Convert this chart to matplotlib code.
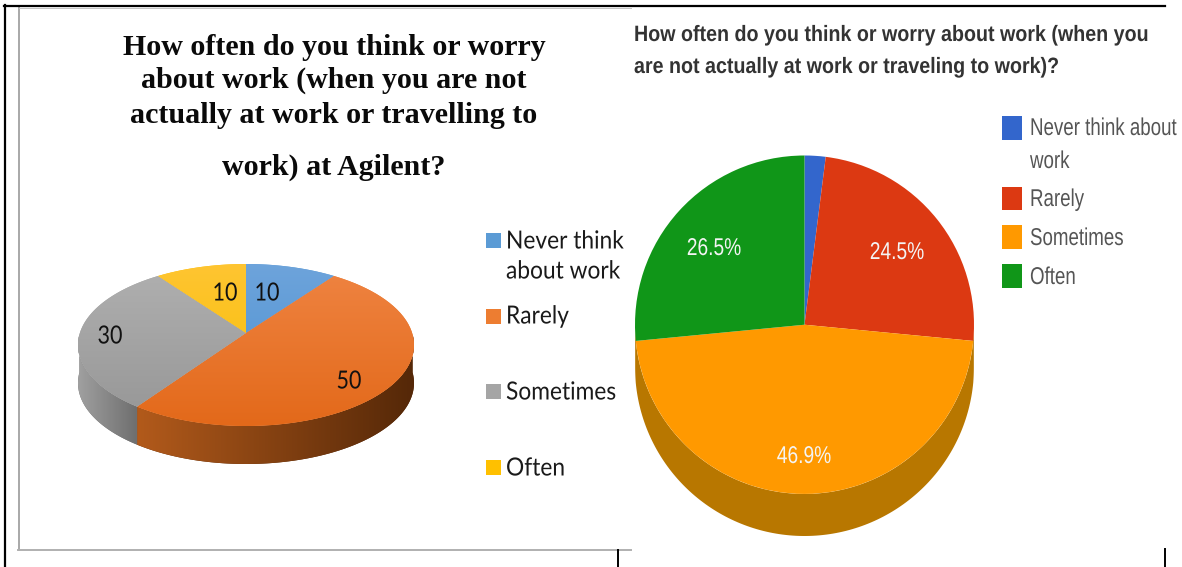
import numpy as np
import matplotlib
matplotlib.use('Agg')
import matplotlib.pyplot as plt
from matplotlib.colors import to_rgb
from matplotlib.patches import Polygon
from matplotlib.patheffects import AbstractPathEffect
from matplotlib.path import Path
from matplotlib.transforms import Affine2D, Transform

W, H = 1182, 567

categories = ['Never think\nabout work', 'Rarely', 'Sometimes', 'Often']
left_values = [10, 50, 30, 10]
left_labels = ['10', '50', '30', '10']
left_title = ['How often do you think or worry', 'about work (when you are not',
              'actually at work or travelling to', 'work) at Agilent?']

right_categories = ['Never think about\nwork', 'Rarely', 'Sometimes', 'Often']
right_values = [2.0, 24.5, 46.9, 26.5]
right_title = ['How often do you think or worry about work (when you',
               'are not actually at work or traveling to work)?']


class DiskWarp(Transform):
    # keeps the rim on the ellipse, squeezes the far slices and slides the apex up
    input_dims = 2
    output_dims = 2

    def __init__(self, lift, squeeze):
        super().__init__()
        self.lift = lift
        self.squeeze = squeeze

    def transform_non_affine(self, values):
        xy = np.asarray(values, dtype=float)
        r = np.hypot(xy[:, 0], xy[:, 1])
        phi = np.arctan2(xy[:, 0], xy[:, 1])
        phi = phi - self.squeeze * np.sin(phi)
        return np.column_stack([r * np.sin(phi),
                                r * np.cos(phi) + self.lift * (1 - np.minimum(r, 1))])

    def transform_path_non_affine(self, path):
        poly = path.to_polygons(Affine2D().scale(500), closed_only=False)[0] / 500
        return Path(self.transform_non_affine(poly), closed=True)


class Narrow(AbstractPathEffect):
    # squeezes drawn glyphs sideways around a fixed pixel column
    def __init__(self, x0, sx):
        super().__init__()
        self.squash = Affine2D().translate(-x0, 0).scale(sx, 1).translate(x0, 0)

    def draw_path(self, renderer, gc, tpath, affine, rgbFace=None):
        renderer.draw_path(gc, tpath, affine + self.squash, rgbFace)


def px_axes(x0, x1, y0, y1):
    return fig.add_axes([x0 / W, 1 - y1 / H, (x1 - x0) / W, (y1 - y0) / H])


def gradient(ax, c0, c1, extent, clip, vertical=True, zorder=3):
    t = np.linspace(0, 1, 128)[:, None]
    img = (1 - t) * np.array(to_rgb(c0)) + t * np.array(to_rgb(c1))
    img = img[:, None, :] if vertical else img[None, :, :]
    im = ax.imshow(img, extent=extent, aspect='auto', origin='upper',
                   interpolation='bilinear', zorder=zorder)
    im.set_clip_path(clip)


def side_wall(wedge, depth, warp=None):
    # only the front half of the rim shows a wall
    lo, hi = max(wedge.theta1, -180), min(wedge.theta2, 0)
    if lo >= hi:
        return None
    t = np.radians(np.linspace(lo, hi, 150))
    rim = np.c_[np.cos(t), np.sin(t)]
    if warp is not None:
        rim = warp.transform_non_affine(rim)
    low = rim - [0, depth]
    return np.r_[rim, low[::-1]]


def squeezed(x, y, s, sx, step=0, ha='left', **kw):
    # one Text per line so the line pitch stays fixed
    for i, part in enumerate(s.split('\n')):
        t = bg.text(x, y + i * step, part, ha=ha, va='center', **kw)
        x0 = x
        width = t.get_window_extent(fig.canvas.get_renderer()).width
        if ha == 'left':
            # pin the right end so the unsqueezed box stays on the page
            x0 = x + width * sx
            t.set_ha('right')
            t.set_x(x0)
        t.set_path_effects([Narrow(x0, sx)])


fig = plt.figure(figsize=(W / 100, H / 100), dpi=100, facecolor='white')

# page furniture and all text live on one pixel-sized layer
bg = fig.add_axes([0, 0, 1, 1], zorder=5)
bg.set_xlim(0, W)
bg.set_ylim(H, 0)
bg.axis('off')
bg.patch.set_alpha(0)

bg.plot([19, 19], [7, 550], color='#a8a8a8', lw=1.4)
bg.plot([18, 631], [549.7, 549.7], color='#b0b0b0', lw=1.4)
bg.plot([19, 631], [7.6, 7.6], color='#c4c4c4', lw=0.7)
bg.plot([5, 5], [5, 567], color='black', lw=1.6)
bg.plot([4, 1165], [5.8, 5.8], color='black', lw=1.6)
bg.plot([618, 618], [550, 567], color='black', lw=1.4)
bg.plot([1165, 1165], [549, 567], color='black', lw=1.4)

# left: tilted pie
left_colors = ['#5b9bd5', '#ed7d31', '#a5a5a5', '#ffc000']
left_top = [('#70a5dc', '#4a90d0'), ('#f08645', '#e3691a'),
            ('#b2b2b2', '#969696'), ('#ffc535', '#f7bf00')]
left_side = [None, ('#b25a1b', '#552808'), ('#a0a0a0', '#6e6e6e'), None]
depth_l = 38 / 81
ax = px_axes(78, 414, 264, 464)
wedges, _ = ax.pie(left_values, colors=left_colors, startangle=90, counterclock=False)
warp = DiskWarp(12 / 81, np.radians(7.5))
for w, top, side in zip(wedges, left_top, left_side):
    xy = side_wall(w, depth_l, warp)
    w.set_transform(warp + ax.transData)
    w.set_zorder(2)
    if xy is not None and side is not None:
        wall = Polygon(xy, closed=True, fc=side[1], ec='none', zorder=1)
        ax.add_patch(wall)
        gradient(ax, side[0], side[1], (xy[:, 0].min(), xy[:, 0].max(), -1 - depth_l, 1),
                 wall, vertical=False, zorder=1.5)
    gradient(ax, top[0], top[1], (-1, 1, -1, 1.15), w)
ax.set_aspect('auto')
ax.set_xlim(-1, 1)
ax.set_ylim(-1 - depth_l, 1)
ax.axis('off')

for y, line in zip([47.5, 80.5, 115.5, 167], left_title):
    bg.text(334, y, line, ha='center', va='center', family='Liberation Serif',
            weight='bold', fontsize=21.6, color='#0a0a0a')

for (x, y), s in zip([(267, 293), (349, 381), (110, 336), (225, 293)], left_labels):
    squeezed(x, y, s, 0.86, ha='center', family='Lato', fontsize=18, color='#111111')

for y, c, s, ty in zip([233, 309, 384, 460], left_colors, categories, [241, 316, 392, 468]):
    bg.add_patch(plt.Rectangle((486, y), 15, 15, fc=c, ec='none'))
    squeezed(506, ty, s, 0.91, step=30, family='Lato', fontsize=18, color='#1a1a1a')

# right: flat pie with a single front wall
right_colors = ['#3366cc', '#dc3912', '#ff9900', '#109618']
depth_r = 42 / 169
ax2 = px_axes(635, 974, 155.5, 536)
wedges2, _ = ax2.pie(right_values, colors=right_colors, startangle=90, counterclock=False)
for w in wedges2:
    w.set_zorder(2)
    xy = side_wall(w, depth_r)
    if xy is not None:
        ax2.add_patch(Polygon(xy, closed=True, fc='#b87700', ec='none', zorder=1))
ax2.set_aspect('auto')
ax2.set_xlim(-1, 1)
ax2.set_ylim(-1 - depth_r, 1)
ax2.axis('off')

for y, line in zip([35.5, 67.5], right_title):
    squeezed(634, y, line, 0.885, family='Liberation Sans', weight='bold',
             fontsize=16, color='#333333')

for (x, y), v in zip([(897, 253), (804, 457), (714, 249)], right_values[1:]):
    squeezed(x, y, f'{v}%', 0.79, ha='center', family='Liberation Sans',
             fontsize=17.5, color='#f4f4f4')

for (y0, y1), c, s, ty in zip([(116, 140), (187, 210), (225, 249), (264, 288)], right_colors,
                              right_categories, [129, 200, 239, 278]):
    bg.add_patch(plt.Rectangle((1002, y0), 20, y1 - y0, fc=c, ec='none'))
    squeezed(1030, ty, s, 0.77, step=33, family='Liberation Sans', fontsize=17.5,
             color='#555555')

fig.savefig('out.png', dpi=100, facecolor='white')
